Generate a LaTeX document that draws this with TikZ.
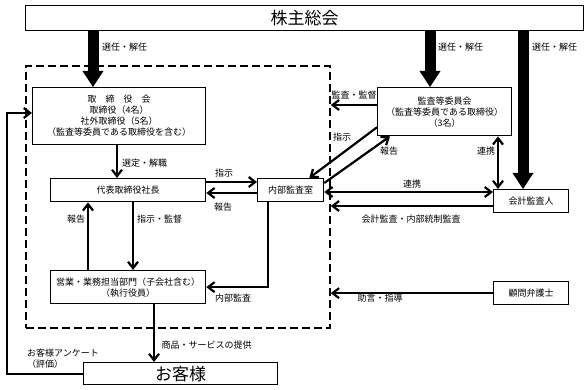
\documentclass[tikz,border=0pt]{standalone}
\usepackage{fontspec}
\setmainfont{Noto Sans CJK JP}
\usetikzlibrary{arrows.meta}
\tikzset{
  box/.style={draw, line width=1.3pt, anchor=north west, inner sep=0pt, align=center, font=\fontsize{9}{11}\selectfont},
  bigbox/.style={box, font=\fontsize{17}{20}\selectfont},
  frame/.style={draw, line width=1.8pt, dash pattern=on 8pt off 4pt, anchor=north west, inner sep=0pt},
  arr/.style={-{Straight Barb[length=6.5pt,width=10pt]}, line width=2.2pt},
  dblarr/.style={{Straight Barb[length=6.5pt,width=10pt]}-{Straight Barb[length=6.5pt,width=10pt]}, line width=2.2pt},
  bigarr/.style={-{Triangle[length=16pt,width=21pt,line width=0pt]}, line width=11pt},
  lbl/.style={font=\fontsize{9}{11}\selectfont, inner sep=0pt}
}
\begin{document}
\begin{tikzpicture}[x=1pt,y=-1pt]
\useasboundingbox (0,0) rectangle (587,390);
\node[frame, minimum width=304pt, minimum height=262pt] (org) at (25,65) {};
\node[bigbox, minimum width=558pt, minimum height=25pt] (gm) at (25,5) {株主総会};
\node[box, minimum width=173pt, minimum height=57pt] (board) at (32,87) {取　締　役　会\\取締役（4名）\\社外取締役（5名）\\（監査等委員である取締役を含む）};
\node[box, minimum width=155pt, minimum height=23pt] (ceo) at (50,178) {代表取締役社長};
\node[box, minimum width=155pt, minimum height=33pt] (ops) at (50,270) {営業・業務担当部門（子会社含む）\\（執行役員）};
\node[bigbox, minimum width=194pt, minimum height=22pt] (cust) at (83,362) {お客様};
\node[box, minimum width=66pt, minimum height=23pt] (audit) at (257,178) {内部監査室};
\node[box, minimum width=134pt, minimum height=48pt] (acm) at (377,87) {監査等委員会\\（監査等委員である取締役）\\（3名）};
\node[box, minimum width=75pt, minimum height=23pt] (extaud) at (493,189) {会計監査人};
\node[box, minimum width=75pt, minimum height=23pt] (lawyer) at (493,281) {顧問弁護士};
\coordinate (fb) at (7,113);

\draw[bigarr] (gm.south -| 93,0) -- (board.north -| 93,0);
\draw[bigarr] (gm.south -| 430,0) -- (acm.north -| 430,0);
\draw[bigarr] (gm.south -| 523,0) -- (extaud.north -| 523,0);
\node[lbl] (sel1) at (124.5,47) {選任・解任};
\node[lbl] (sel2) at (460.5,47) {選任・解任};
\node[lbl] (sel3) at (554.5,47) {選任・解任};

\draw[arr] (board.south -| 117,0) -- (ceo.north -| 117,0);
\node[lbl] (appoint) at (144.5,163) {選定・解職};
\draw[arr] (ceo.east |- 0,182) -- (audit.west |- 0,182);
\node[lbl] (instr1) at (224,173) {指示};
\draw[arr] (audit.west |- 0,193) -- (ceo.east |- 0,193);
\node[lbl] (rep1) at (223,207) {報告};
\draw[arr] (ceo.south -| 133,0) -- (ops.north -| 133,0);
\node[lbl] (superv) at (159.5,219) {指示・監督};
\draw[arr] (ops.north -| 88,0) -- (ceo.south -| 88,0);
\node[lbl] (rep2) at (76,219) {報告};
\draw[arr] (audit.south -| 268,0) |- (ops.east);
\node[lbl] (intaud) at (233,298) {内部監査};
\draw[arr] (ops.south -| 154,0) -- (cust.north -| 154,0);
\node[lbl] (serv) at (206.5,345) {商品・サービスの提供};
\draw[arr] (cust.west) -| (fb) -- (board.west |- fb);
\node[lbl, anchor=north west, align=left] (survey) at (27,349) {お客様アンケート\\（評価）};

\draw[arr] (acm.west |- 0,105) -- (org.east |- 0,105);
\node[lbl] (audsup) at (354,95) {監査・監督};
\draw[arr] ([yshift=9pt]acm.south west) -- ([xshift=-15pt]audit.north east);
\node[lbl] (instr2) at (342,137) {指示};
\draw[arr] ([yshift=-5pt]audit.north east) -- ([xshift=13pt]acm.south west);
\node[lbl] (rep3) at (389,151) {報告};
\draw[dblarr] (acm.south -| 498,0) -- (extaud.north -| 498,0);
\node[lbl] (coop1) at (486,151) {連携};
\draw[dblarr] (audit.east |- 0,192) -- (extaud.west |- 0,192);
\node[lbl] (coop2) at (412,184) {連携};
\draw[arr] (extaud.west |- 0,206) -- (org.east |- 0,206);
\node[lbl] (acct) at (411,219) {会計監査・内部統制監査};
\draw[arr] (lawyer.west) -- (org.east |- lawyer.west);
\node[lbl] (advice) at (380,298) {助言・指導};
\end{tikzpicture}
\end{document}
